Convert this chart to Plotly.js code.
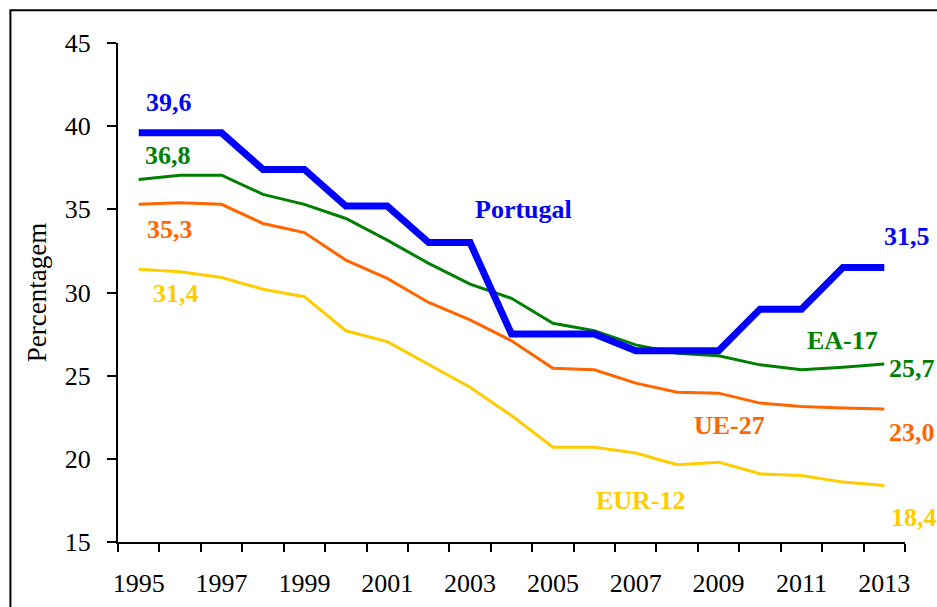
<!DOCTYPE html>
<html>
<head>
<meta charset="utf-8">
<script src="https://cdn.plot.ly/plotly-3.0.1.min.js"></script>
<style>html,body{margin:0;padding:0;background:#fff;}#chart{width:937px;height:607px;}</style>
</head>
<body>
<div id="chart"></div>
<script>
// ---- data ----
var years = [1995,1996,1997,1998,1999,2000,2001,2002,2003,2004,2005,2006,2007,2008,2009,2010,2011,2012,2013];
var seriesNames = ["Portugal", "EA-17", "UE-27", "EUR-12"];
var portugal = [39.6,39.6,39.6,37.4,37.4,35.2,35.2,33.0,33.0,27.5,27.5,27.5,26.5,26.5,26.5,29.0,29.0,31.5,31.5];
var ea17 = [36.8,37.05,37.05,35.9,35.3,34.45,33.15,31.75,30.5,29.65,28.15,27.7,26.85,26.35,26.2,25.65,25.35,25.5,25.7];
var ue27 = [35.3,35.4,35.3,34.15,33.6,31.95,30.85,29.4,28.35,27.1,25.45,25.35,24.55,24.0,23.95,23.35,23.15,23.05,23.0];
var eur12 = [31.4,31.25,30.9,30.2,29.75,27.7,27.05,25.7,24.3,22.6,20.7,20.7,20.35,19.65,19.8,19.1,19.0,18.6,18.4];
var xTickLabels = ["1995","1997","1999","2001","2003","2005","2007","2009","2011","2013"];
var yAxisTitle = "Percentagem";

// ---- styles ----
var FONT = "Liberation Serif, Times New Roman, serif";
var colors = {"Portugal":"#0000FF","EA-17":"#008000","UE-27":"#FF6600","EUR-12":"#FFCC00"};
var widths = {"Portugal":7,"EA-17":3,"UE-27":3,"EUR-12":3};
var valuesByName = {"Portugal":portugal,"EA-17":ea17,"UE-27":ue27,"EUR-12":eur12};

function fmt(v){ return v.toFixed(1).replace(".", ","); }

var drawOrder = ["EUR-12","UE-27","EA-17","Portugal"];
var traces = drawOrder.map(function(n){
  return {x: years, y: valuesByName[n], type: "scatter", mode: "lines", name: n,
          line: {color: colors[n], width: widths[n], shape: "linear"}, hoverinfo: "skip"};
});

var last = years.length - 1;
var xr = [years[0]-0.5, years[last]+0.5];
function px(x){ return (x - xr[0]) / (xr[1] - xr[0]); } // data x -> paper x (labels may sit right of the axis)

// label offsets (style): [dx years, dy units] relative to first/last points
var firstOff = {"Portugal":[0.74,1.84],"EA-17":[0.71,1.45],"UE-27":[0.76,-1.53],"EUR-12":[0.91,-1.44]};
var lastOff  = {"Portugal":[0.55,1.88],"EA-17":[0.66,-0.25],"UE-27":[0.66,-1.4],"EUR-12":[0.71,-1.91]};
var nameLabelPos = {"Portugal":[2004.29,35.0],"EA-17":[2012.0,27.13],"UE-27":[2009.27,22.02],"EUR-12":[2007.12,17.51]};

var annotations = [];
seriesNames.forEach(function(n){
  var v = valuesByName[n];
  var f = {family: FONT, size: 26, color: colors[n], weight: "bold"};
  annotations.push({x: px(years[0]+firstOff[n][0]), y: v[0]+firstOff[n][1], xref:"paper", yref:"y",
    text: "<b>"+fmt(v[0])+"</b>", showarrow:false, font:f, xanchor:"center", yanchor:"middle"});
  annotations.push({x: px(years[last]+lastOff[n][0]), y: v[last]+lastOff[n][1], xref:"paper", yref:"y",
    text: "<b>"+fmt(v[last])+"</b>", showarrow:false, font:f, xanchor:"center", yanchor:"middle"});
  annotations.push({x: px(nameLabelPos[n][0]), y: nameLabelPos[n][1], xref:"paper", yref:"y",
    text: "<b>"+n+"</b>", showarrow:false, font:f, xanchor:"center", yanchor:"middle"});
});

var layout = {
  width: 937, height: 607,
  margin: {l: 118, r: 32, t: 43, b: 65},
  paper_bgcolor: "#ffffff", plot_bgcolor: "#ffffff",
  showlegend: false,
  font: {family: FONT, color: "#000000", size: 26},
  xaxis: {
    type: "linear", range: xr, fixedrange: true,
    tickmode: "array",
    tickvals: xTickLabels.map(function(s){ return +s; }),
    ticktext: xTickLabels,
    ticks: "", showgrid: false, zeroline: false,
    showline: true, linecolor: "#000000", linewidth: 2,
    tickfont: {family: FONT, size: 26, color: "#000000"},
    ticklabelstandoff: 17,
    minor: {ticks: "outside", ticklen: 8, tickwidth: 2, tickcolor: "#000000", tick0: years[0]-0.5, dtick: 1, showgrid: false}
  },
  yaxis: {
    range: [15, 45], dtick: 5, tick0: 15, fixedrange: true,
    ticks: "outside", ticklen: 9, tickwidth: 2, tickcolor: "#000000",
    showgrid: false, zeroline: false,
    showline: true, linecolor: "#000000", linewidth: 2,
    tickfont: {family: FONT, size: 26, color: "#000000"},
    ticklabelstandoff: 11,
    title: {text: yAxisTitle, font: {family: FONT, size: 27, color: "#000000"}, standoff: 10}
  },
  annotations: annotations,
  shapes: [{type: "rect", xref: "paper", yref: "paper",
            x0: -0.1367, x1: 1.06, y0: -0.16, y1: 1.0655,
            line: {color: "#000000", width: 2}, fillcolor: "rgba(0,0,0,0)", layer: "above"}]
};

Plotly.newPlot("chart", traces, layout, {displayModeBar: false, staticPlot: true});
</script>
</body>
</html>
